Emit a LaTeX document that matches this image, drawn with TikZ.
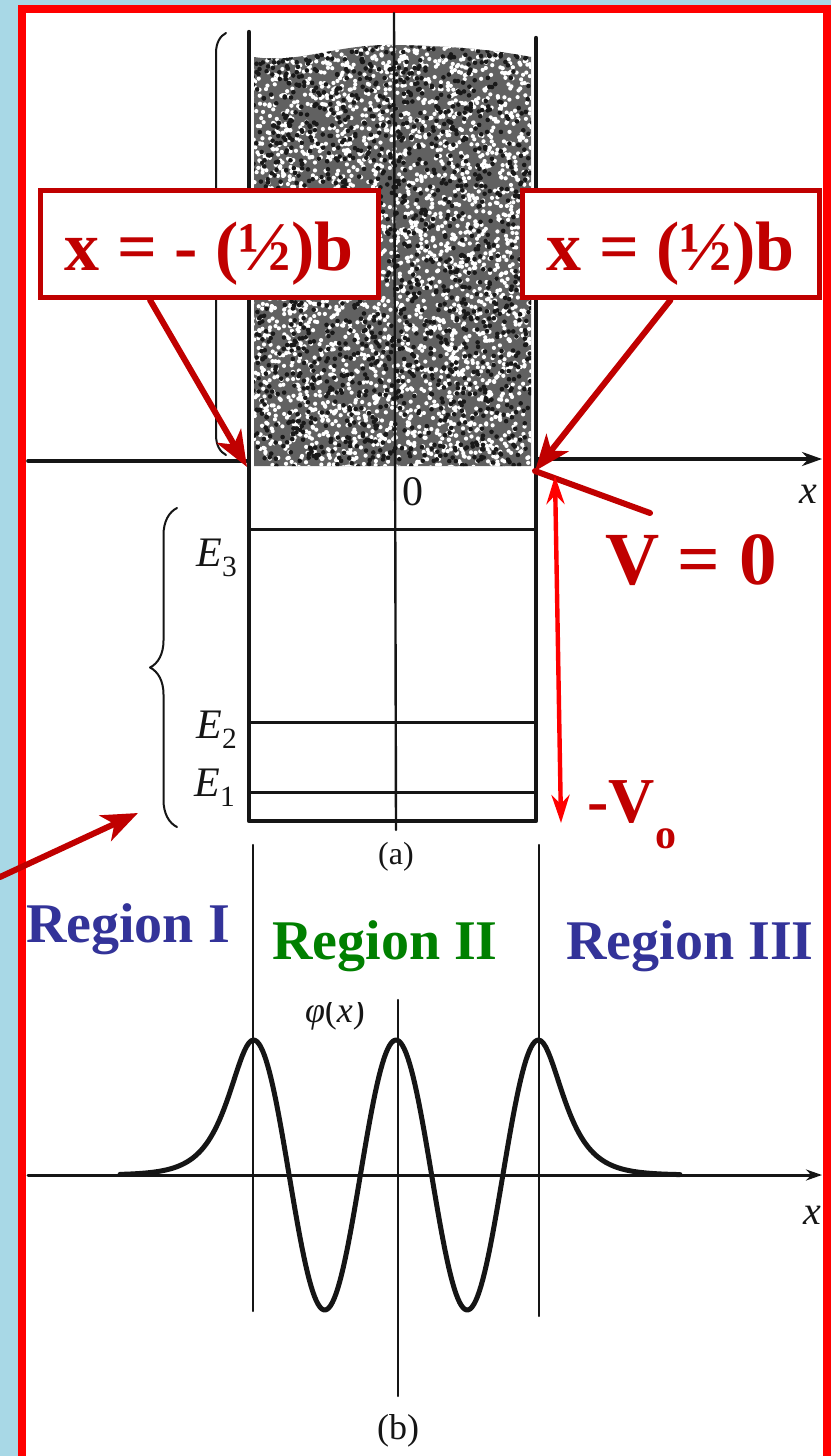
\documentclass[tikz,border=0pt]{standalone}
\usepackage{fontspec}
\setmainfont{Liberation Serif}
\usetikzlibrary{arrows.meta,calc,positioning,decorations.pathreplacing}
\definecolor{wellRed}{HTML}{FF0000}
\definecolor{wellDark}{HTML}{C00000}
\definecolor{wellBlue}{HTML}{333399}
\definecolor{wellGreen}{HTML}{008000}
\definecolor{wellSky}{HTML}{A8D8E6}
\definecolor{wellInk}{HTML}{151515}

\begin{document}
\begin{tikzpicture}[x=1pt,y=-1pt,>=Latex,line cap=round,line join=round]
\useasboundingbox (0,0) rectangle (831,1456);
\path[fill=wellSky] (0,0) rectangle (831,1456);
\path[draw=wellRed,fill=white,line width=8pt,line cap=butt,line join=miter] (22,9) rectangle (827,1462);
\tikzset{axis/.style={draw=wellInk,line width=3.6pt},wall/.style={draw=wellInk,line width=4.4pt},level/.style={draw=wellInk,line width=3pt},thinline/.style={draw=wellInk,line width=2.4pt},
  tag/.style={draw=wellDark,fill=white,line width=5pt,line join=miter,inner sep=0pt,text=wellDark,font=\bfseries\fontsize{70}{74}\selectfont,text height=80pt,text depth=27pt},
  redarrow/.style={draw=wellDark,line width=6pt,-{Stealth[length=36pt,width=28pt,inset=10pt]}},
  dimarrow/.style={draw=wellRed,line width=4.4pt,{Stealth[length=28pt,width=18pt]}-{Stealth[length=28pt,width=18pt]}},
  lbl/.style={text=wellInk,inner sep=0pt},
  region/.style={anchor=base,inner sep=0pt,font=\bfseries\fontsize{56}{60}\selectfont}}
% (a) square well, shaded continuum above V = 0
\begin{scope}
\clip (254,57) .. controls (300,64) and (335,44) .. (394,45) .. controls (455,46) and (495,50) .. (531,57) -- (531,466) -- (254,466) -- cycle;
\fill[black!62] (250,40) rectangle (535,470);
\pgfmathsetseed{7}
\foreach \i in {1,...,3200} \fill[white] ({252+282*rnd},{42+428*rnd}) circle (2.1);
\foreach \i in {1,...,1600} \fill[black!90] ({252+282*rnd},{42+428*rnd}) circle (2.3);
\end{scope}
\coordinate (wlt) at (249,32); \coordinate (wlb) at (249,821); \coordinate (wrb) at (536,821); \coordinate (wrt) at (536,38);
\draw[axis] (28,461) -- (249,461); \draw[axis,-{Stealth[length=20pt,width=14pt]}] (536,459) -- (822,459);
\draw[thinline] (394,13) -- (396,830);
\draw[wall] (wlt) -- (wlb) -- (wrb) -- (wrt);
\draw[level] (249,529) -- (536,529); \draw[level] (249,722) -- (536,722); \draw[level] (249,792) -- (536,792);
\draw[thinline,line width=2pt,decorate,decoration={brace,amplitude=20pt}] (226,455) -- (226,33);
\draw[thinline,line width=2pt,decorate,decoration={brace,amplitude=27pt}] (177,827) -- (177,508);
\node[lbl,font=\fontsize{42}{46}\selectfont] (zero) at (413,492) {0};
\node[lbl,font=\itshape\fontsize{40}{44}\selectfont] (xa) at (808,494) {x};
\node[lbl,font=\fontsize{42}{46}\selectfont,anchor=base] (e3) at (217,566) {\textit{E}\textsubscript{3}};
\node[lbl,font=\fontsize{42}{46}\selectfont,anchor=base] (e2) at (217,738) {\textit{E}\textsubscript{2}};
\node[lbl,font=\fontsize{42}{46}\selectfont,anchor=base] (e1) at (215,796) {\textit{E}\textsubscript{1}};
\node[lbl,font=\fontsize{32}{36}\selectfont] (capa) at (396,857) {(a)};
% red call-outs
\node[tag,minimum width=338pt] (boxL) at (209,188) [anchor=north] {x = - (½)b};
\node[tag,minimum width=297pt] (boxR) at (670.5,188) [anchor=north] {x = (½)b};
\coordinate (hitL) at (247,467); \coordinate (hitR) at (535,471);
\draw[redarrow] ([xshift=-59pt]boxL.south) -- (hitL);
\draw[redarrow] (boxR.south) -- (hitR);
\node[anchor=base,inner sep=0pt,text=wellDark,font=\bfseries\fontsize{75}{80}\selectfont] (vzero) at (691,584) {V = 0};
\coordinate (vtail) at (650,513);
\draw[draw=wellDark,line width=6pt] (vtail) -- (hitR);
\coordinate (vtop) at (555,476); \coordinate (vbot) at (561,823);
\draw[dimarrow] (vtop) -- (vbot);
\node[anchor=base west,inner sep=0pt,text=wellDark,font=\bfseries\fontsize{64}{68}\selectfont] (vneg) at (587,822) {-V};
\node[anchor=base west,inner sep=0pt,text=wellDark,font=\bfseries\fontsize{42}{46}\selectfont] (vsub) at (vneg.base east) [yshift=-26pt] {o};
\coordinate (lead) at (0,877); \coordinate (lowhit) at (138,813);
\draw[redarrow] (lead) -- (lowhit);
\node[region,text=wellBlue] (regI) at (128,942) {Region I};
\node[region,text=wellGreen] (regII) at (385,959) {Region II};
\node[region,text=wellBlue] (regIII) at (690,959) {Region III};
% (b) wave function
\draw[thinline] (253,845) -- (253,1311); \draw[thinline] (539,845) -- (539,1316);
\draw[thinline] (398,1000) -- (398,1396);
\draw[axis,line width=3pt,-{Stealth[length=16pt,width=11pt]}] (28,1175) -- (822,1175);
\begin{scope}
\clip (280,1002) rectangle (390,1040);
\node[lbl,font=\fontsize{36}{40}\selectfont,anchor=base] (phi) at (335,1022) {\textit{φ}(\textit{x})};
\end{scope}
\draw[draw=wellInk,line width=5pt] plot[domain=120:253.5,samples=60] (\x,{1175-135/cosh((\x-253.5)/22)})
  -- plot[domain=253.5:538.5,samples=160] (\x,{1175-135*cos((\x-396)/142.5*360)})
  -- plot[domain=538.5:680,samples=60] (\x,{1175-135/cosh((\x-538.5)/22)});
\node[lbl,font=\itshape\fontsize{40}{44}\selectfont] (xb) at (812,1215) {x};
\node[lbl,font=\fontsize{36}{40}\selectfont] (capb) at (398,1431) {(b)};
\end{tikzpicture}
\end{document}
